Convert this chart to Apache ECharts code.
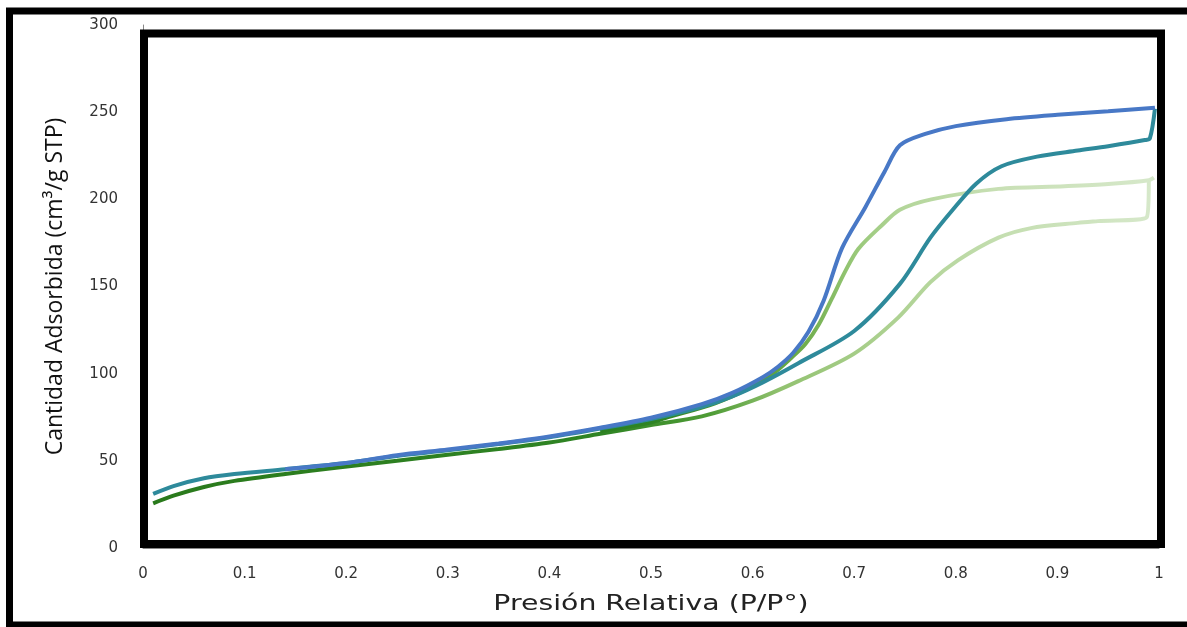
<!DOCTYPE html>
<html>
<head>
<meta charset="utf-8">
<script src="https://cdn.jsdelivr.net/npm/echarts@6/dist/echarts.min.js"></script>
<style>
  html, body { margin: 0; padding: 0; background: #fff; }
  #chart { width: 1187px; height: 627px; }
</style>
</head>
<body>
<div id="chart"></div>
<script>
// Isotherm data: relative pressure (P/P°) and adsorbed amount (cm³/g STP)
const tealP = [0.01, 0.03, 0.06, 0.09, 0.14, 0.2, 0.25, 0.3, 0.35, 0.4, 0.45, 0.5, 0.55, 0.58, 0.61, 0.645, 0.7, 0.745, 0.775, 0.797, 0.82, 0.845, 0.88, 0.92, 0.95, 0.986, 0.991, 0.996];
const tealV = [31, 35.5, 40, 42.4, 45.2, 48.7, 52.8, 56, 59.6, 63.5, 68.5, 74, 81, 87, 95, 106, 124.5, 151.5, 178, 194, 209, 219, 224.5, 228, 230.5, 234, 235, 252];

const blueP = [0.14, 0.2, 0.25, 0.3, 0.35, 0.4, 0.45, 0.5, 0.55, 0.58, 0.61, 0.625, 0.64, 0.655, 0.67, 0.688, 0.711, 0.73, 0.745, 0.77, 0.8, 0.85, 0.9, 0.95, 0.996];
const blueV = [45.2, 48.8, 53.2, 56.5, 60, 64, 69, 74.7, 82.5, 89, 98, 104, 112, 124, 142, 172, 195.5, 216, 231, 237.5, 242, 246, 248.5, 250.5, 252.5];

const greenAdsP = [0.01, 0.03, 0.06, 0.09, 0.14, 0.19, 0.25, 0.3, 0.35, 0.4, 0.45, 0.5, 0.55, 0.6, 0.645, 0.7, 0.743, 0.775, 0.802, 0.842, 0.874, 0.92, 0.94, 0.988, 0.99];
const greenAdsV = [25.6, 30, 35, 38.5, 42.5, 46, 50, 53.5, 56.8, 60.5, 65.5, 70.5, 75.5, 84.5, 95.7, 111.5, 132, 152.5, 165, 178, 183.5, 186.5, 187.5, 189.8, 211.5];

const greenDesP = [0.45, 0.5, 0.514, 0.563, 0.596, 0.619, 0.638, 0.652, 0.665, 0.678, 0.691, 0.704, 0.727, 0.745, 0.776, 0.842, 0.907, 0.95, 0.99, 0.995];
const greenDesV = [67, 72, 74.5, 83, 91.5, 99.5, 109, 117, 128, 143, 158.5, 171.5, 185, 194, 200, 206, 207.5, 208.8, 211, 212.5];

const xTicks = { min: 0, max: 1, step: 0.1 };
const yTicks = { min: 0, max: 300, step: 50 };
const xTitle = 'Presión Relativa (P/P°)';
const yTitle = 'Cantidad Adsorbida (cm³/g STP)';

function pairs(px, vy) { return px.map((p, i) => [p, vy[i]]); }

const chart = echarts.init(document.getElementById('chart'));

const lineBase = {
  type: 'line',
  showSymbol: false,
  smooth: 0.3,
  silent: true
};

chart.setOption({
  backgroundColor: '#ffffff',
  animation: false,
  grid: { left: 143, right: 28, top: 25, bottom: 79 },
  xAxis: {
    type: 'value',
    min: xTicks.min, max: xTicks.max, interval: xTicks.step,
    axisLine: { show: true, lineStyle: { color: '#888', width: 1 } },
    axisTick: { show: false },
    splitLine: { show: false },
    axisLabel: {
      margin: 19,
      fontFamily: 'DejaVu Sans', fontSize: 15, color: '#333',
      formatter: v => String(+v.toFixed(1))
    }
  },
  yAxis: {
    type: 'value',
    min: yTicks.min, max: yTicks.max, interval: yTicks.step,
    name: yTitle,
    nameLocation: 'middle',
    nameGap: 76,
    nameRotate: 90,
    nameTextStyle: { fontFamily: 'Liberation Sans Narrow, Open Sans, sans-serif', fontSize: 23, color: '#111' },
    axisLine: { show: true, lineStyle: { color: '#888', width: 1 } },
    axisTick: { show: false },
    splitLine: { show: false },
    axisLabel: { margin: 25, fontFamily: 'DejaVu Sans', fontSize: 15, color: '#333' }
  },
  graphic: [
    // x-axis title, widened to the figure's lettering
    { type: 'text', z: 100, silent: true, x: 651, y: 605, scaleX: 1.35,
      style: { text: xTitle, align: 'center', verticalAlign: 'middle',
               font: '21px "DejaVu Sans"', fill: '#222' } },
    // heavy inner frame around the plotting region
    { type: 'rect', z: 100, silent: true,
      shape: { x: 144, y: 33.5, width: 1017, height: 510.5 },
      style: { fill: 'none', stroke: '#000', lineWidth: 8 } },
    // outer border of the figure
    { type: 'rect', z: 100, silent: true,
      shape: { x: 9.5, y: 11, width: 1200, height: 614 },
      style: { fill: 'none', stroke: '#000', lineWidth: 7 } }
  ],
  series: [
    Object.assign({}, lineBase, {
      name: 'Adsorción B', z: 2,
      data: pairs(greenAdsP, greenAdsV),
      lineStyle: { width: 4, color: new echarts.graphic.LinearGradient(0, 0, 1, 0, [
        { offset: 0, color: '#2a7a1c' },
        { offset: 0.45, color: '#2f8424' },
        { offset: 0.56, color: '#4f9c36' },
        { offset: 0.63, color: '#92c270' },
        { offset: 0.72, color: '#a9cf8c' },
        { offset: 0.85, color: '#c4deb0' },
        { offset: 1, color: '#d6e8ca' }
      ]) }
    }),
    Object.assign({}, lineBase, {
      name: 'Desorción B', z: 3,
      data: pairs(greenDesP, greenDesV),
      lineStyle: { width: 4, color: new echarts.graphic.LinearGradient(0, 0, 1, 0, [
        { offset: 0, color: '#2c8020' },
        { offset: 0.1, color: '#2f8424' },
        { offset: 0.27, color: '#4f9c36' },
        { offset: 0.37, color: '#70ad4c' },
        { offset: 0.46, color: '#98c878' },
        { offset: 0.55, color: '#b4d69b' },
        { offset: 0.73, color: '#c9e0b6' },
        { offset: 1, color: '#d6e8ca' }
      ]) }
    }),
    Object.assign({}, lineBase, {
      name: 'Adsorción A', z: 4,
      data: pairs(tealP, tealV),
      lineStyle: { width: 4, color: '#2e8a9b' }
    }),
    Object.assign({}, lineBase, {
      name: 'Desorción A', z: 5,
      data: pairs(blueP, blueV),
      lineStyle: { width: 4, color: '#4878c6' }
    })
  ]
});
</script>
</body>
</html>
